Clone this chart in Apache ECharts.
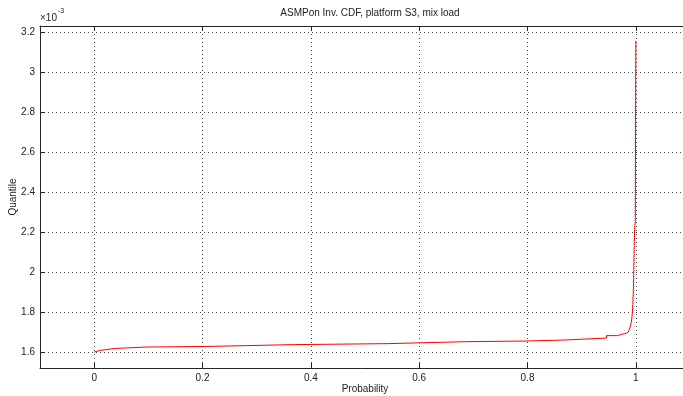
<!DOCTYPE html>
<html>
<head>
<meta charset="utf-8">
<script src="https://cdn.jsdelivr.net/npm/echarts@6/dist/echarts.min.js"></script>
<style>
  html, body { margin: 0; padding: 0; background: #fff; }
  #chart { width: 683px; height: 396px; }
</style>
</head>
<body>
<div id="chart"></div>
<script>
// Empirical inverse CDF: probability where each step begins, and the quantile (x 1e-3) held from there
const probability = [0, 0.002, 0.011, 0.039, 0.098, 0.21, 0.368, 0.543, 0.69, 0.797, 0.868, 0.915,
  0.946, 0.966, 0.976, 0.982, 0.986, 0.989, 0.9915, 0.993, 0.9945, 0.996, 0.997, 0.998, 0.999, 1.0];
const quantileE3 = [1.600, 1.608, 1.618, 1.625, 1.628, 1.637, 1.642, 1.652, 1.655, 1.660, 1.666, 1.670,
  1.682, 1.690, 1.693, 1.700, 1.708, 1.720, 1.746, 1.778, 1.837, 1.960, 2.130, 2.228, 2.250, 3.158];

const xTicks = [0, 0.2, 0.4, 0.6, 0.8, 1];
const yTicks = [1.6, 1.8, 2, 2.2, 2.4, 2.6, 2.8, 3, 3.2];

const FONT = '"Liberation Sans", Arial, sans-serif';
const TEXT = '#222';
const AXIS = '#262626';
const GRID = { color: '#444', width: 1, type: [1, 3] };

const points = probability.map((p, i) => [p, quantileE3[i]]);

const chart = echarts.init(document.getElementById('chart'), null, { renderer: 'canvas' });
chart.setOption({
  animation: false,
  backgroundColor: '#fff',
  title: {
    text: 'ASMPon Inv. CDF, platform S3, mix load',
    left: 365, top: 3, textAlign: 'center',
    textStyle: { fontFamily: FONT, fontSize: 10, fontWeight: 'normal', color: TEXT }
  },
  graphic: [{
    type: 'text', left: 40, top: 8,
    style: {
      text: '{b|\u00d710}{s|-3}',
      rich: {
        b: { fontFamily: FONT, fontSize: 10, fill: TEXT, verticalAlign: 'bottom' },
        s: { fontFamily: FONT, fontSize: 7, fill: TEXT, padding: [0, 0, 8, 1], verticalAlign: 'bottom' }
      }
    }
  }],
  // plot box runs past the right edge of the canvas
  grid: { left: 40, top: 26, width: 650, height: 342, containLabel: false, outerBoundsMode: 'none' },
  xAxis: [{
    type: 'value', min: -0.1, max: 1.1, position: 'bottom',
    name: 'Probability', nameLocation: 'middle', nameGap: 16, nameMoveOverlap: false,
    nameTextStyle: { fontFamily: FONT, fontSize: 10, color: TEXT },
    axisLine: { show: true, onZero: false, lineStyle: { color: AXIS, width: 1 } },
    axisTick: { show: true, inside: true, length: 5, customValues: xTicks, lineStyle: { color: AXIS } },
    axisLabel: { customValues: xTicks, margin: 5, fontFamily: FONT, fontSize: 10, color: TEXT,
      formatter: v => String(+v.toFixed(1)) },
    splitLine: { show: true, lineStyle: GRID }
  }, {
    type: 'value', min: -0.1, max: 1.1, position: 'top',
    axisLine: { show: true, onZero: false, lineStyle: { color: AXIS, width: 1 } },
    axisTick: { show: true, inside: true, length: 5, customValues: xTicks, lineStyle: { color: AXIS } },
    axisLabel: { show: false, customValues: xTicks },
    splitLine: { show: false }
  }],
  yAxis: {
    type: 'value', min: 1.52, max: 3.232,
    name: 'Quantile', nameLocation: 'middle', nameGap: 22, nameMoveOverlap: false,
    nameTextStyle: { fontFamily: FONT, fontSize: 10, color: TEXT },
    axisLine: { show: true, onZero: false, lineStyle: { color: AXIS, width: 1 } },
    axisTick: { show: true, inside: true, length: 5, customValues: yTicks, lineStyle: { color: AXIS } },
    axisLabel: { customValues: yTicks, margin: 5, fontFamily: FONT, fontSize: 10, color: TEXT,
      formatter: v => String(+v.toFixed(1)) },
    splitLine: { show: true, lineStyle: GRID }
  },
  series: [{
    type: 'line', xAxisIndex: 0, data: points, step: 'end',
    showSymbol: false, symbol: 'none',
    lineStyle: { color: '#ff0000', width: 1 },
    clip: true
  }]
});
</script>
</body>
</html>
